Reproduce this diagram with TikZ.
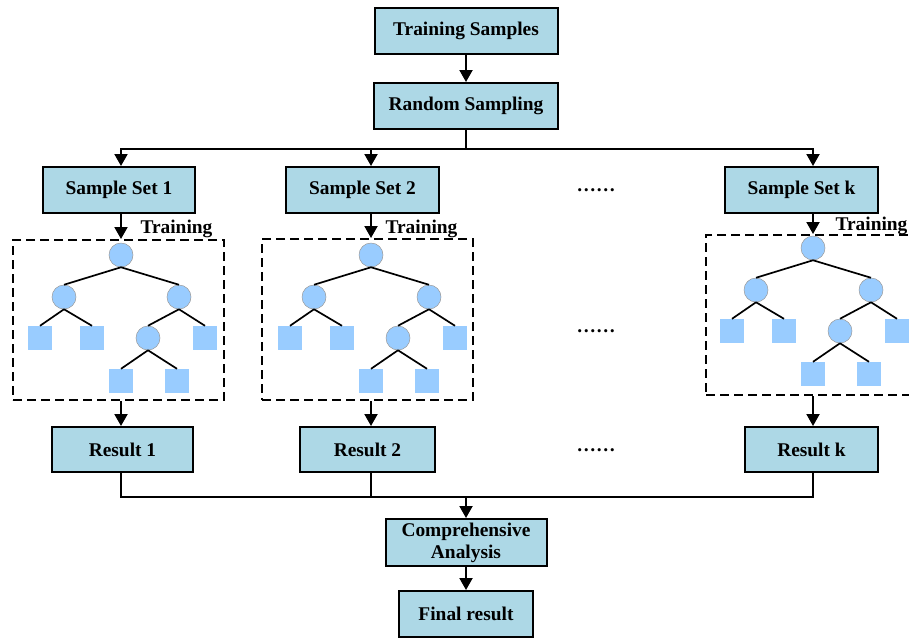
\documentclass[tikz,border=0pt]{standalone}
\usepackage{fontspec}
\setmainfont{Liberation Serif}
\usepackage{tikz}
\usetikzlibrary{arrows.meta,fit}
\definecolor{boxblue}{RGB}{173,216,230}
\definecolor{treeblue}{RGB}{153,204,255}

\begin{document}
\begin{tikzpicture}[x=1pt,y=-1pt,
  txt/.style={font=\fontsize{19.4}{22}\selectfont\bfseries},
  box/.style={txt,draw,line width=2pt,fill=boxblue,minimum height=46pt,inner sep=0pt,align=center},
  arr/.style={line width=2pt,-{Triangle[length=12pt,width=13pt]}},
  wire/.style={line width=2pt,line cap=rect},
  dashbox/.style={draw,line width=2pt,dash pattern=on 9pt off 5pt,inner sep=0pt},
  splitnode/.style={circle,fill=treeblue,draw=black!40,line width=0.5pt,minimum size=24pt,inner sep=0pt},
  leaf/.style={rectangle,fill=treeblue,minimum size=24pt,inner sep=0pt},
  branch/.style={line width=1.7pt},
  ellip/.style={txt,anchor=base}]
\clip (0,0) rectangle (909,638);

% Top of the flow
\node[box,minimum width=183pt] (ts) at (466,31) {Training Samples};
\node[box,minimum width=184pt] (rs) at (466,106) {Random Sampling};
\coordinate (top) at (466,149);

% Sample sets
\node[box,minimum width=152pt] (ss1) at (119,190) {Sample Set 1};
\node[box,minimum width=153pt] (ss2) at (362.5,190) {Sample Set 2};
\node[box,minimum width=153pt] (ssk) at (801.5,190) {Sample Set k};
\node[ellip] (gap1) at (596,191) {……};

% Trees in dashed frames
\foreach \t/\x/\y/\l/\r/\u/\d/\lx/\ly in {1/121/255/13/224/240/400/137/229,
    2/371/255/262/473/239/400/382/229, k/813/248/706/930/235/395/832/226} {
  \node[dashbox,fit={(\l,\u) (\r,\d)}] (d\t) {};
  \node[txt,anchor=west] (tr\t) at (\lx,\ly) {Training};
  \node[splitnode] (n\t-0) at (\x,\y) {};
  \node[splitnode] (n\t-1) at (\x-57,\y+42) {};
  \node[splitnode] (n\t-2) at (\x+58,\y+42) {};
  \node[leaf] (n\t-3) at (\x-81,\y+83) {};
  \node[leaf] (n\t-4) at (\x-29,\y+83) {};
  \node[splitnode] (n\t-5) at (\x+27,\y+83) {};
  \node[leaf] (n\t-6) at (\x+84,\y+83) {};
  \node[leaf] (n\t-7) at (\x,\y+126) {};
  \node[leaf] (n\t-8) at (\x+56,\y+126) {};
  \foreach \a/\b in {0/1,0/2,1/3,1/4,2/5,2/6,5/7,5/8}
    \draw[branch] (n\t-\a.south) -- (n\t-\b.north);
}
\node[ellip] (gap2) at (596,332) {……};

% Results
\node[box,minimum width=141pt,minimum height=45pt] (res1) at (122.5,449.5) {Result 1};
\node[box,minimum width=135pt,minimum height=45pt] (res2) at (367.5,449.5) {Result 2};
\node[box,minimum width=133pt,minimum height=45pt] (resk) at (811.5,449.5) {Result k};
\node[ellip] (gap3) at (596,451) {……};
\coordinate (bot) at (466,497);

% Bottom of the flow
\node[box,minimum width=161pt,minimum height=47pt] (ca) at (466,542.5) {Comprehensive\\Analysis};
\node[box,minimum width=134pt] (fr) at (466,614) {Final result};

% Connectors
\draw[arr] (ts) -- (rs);
\draw[wire] (rs) -- (top);
\draw[wire] (top -| n1-0) -- (top -| nk-0);
\foreach \t in {1,2,k} {
  \draw[arr] (top -| n\t-0) -- (ss\t.north -| n\t-0);
  \draw[arr] (ss\t.south -| n\t-0) -- (d\t.north -| n\t-0);
  \draw[arr] (d\t.south -| n\t-0) -- (res\t.north -| n\t-0);
  \draw[wire] (res\t.south -| n\t-0) -- (bot -| n\t-0);
}
\draw[wire] (bot -| n1-0) -- (bot -| nk-0);
\draw[arr] (bot) -- (ca);
\draw[arr] (ca) -- (fr);
\end{tikzpicture}
\end{document}
